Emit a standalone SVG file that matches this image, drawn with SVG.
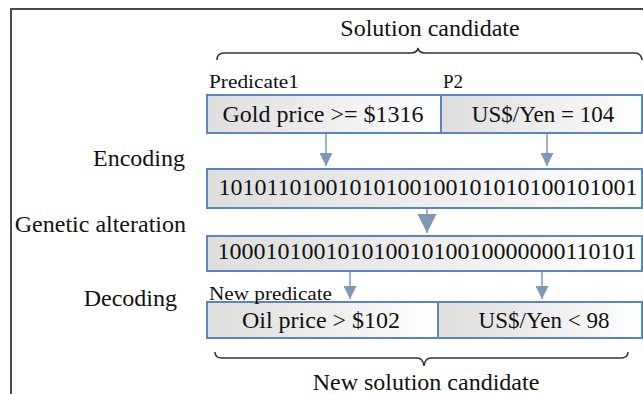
<svg xmlns="http://www.w3.org/2000/svg" width="643" height="394" viewBox="0 0 643 394" font-family="'Liberation Serif', 'DejaVu Serif', 'Noto Serif', serif">
<defs>
<linearGradient id="g" x1="0" y1="0" x2="1" y2="0">
<stop offset="0" stop-color="#dedede"/>
<stop offset="0.55" stop-color="#efefef"/>
<stop offset="1" stop-color="#ffffff"/>
</linearGradient>
<marker id="ah" viewBox="0 0 10 10" refX="10" refY="5" markerWidth="13" markerHeight="13" markerUnits="userSpaceOnUse" orient="auto">
<path d="M0,0 L10,5 L0,10 Z" fill="#7f98b8"/>
</marker>
<marker id="ahb" viewBox="0 0 10 10" refX="10" refY="5" markerWidth="19" markerHeight="19" markerUnits="userSpaceOnUse" orient="auto">
<path d="M0,0 L10,5 L0,10 Z" fill="#7f98b8"/>
</marker>
</defs>
<style>
.box{fill:url(#g);stroke:#5a86bd;stroke-width:2}
text{font-family:'Liberation Serif','DejaVu Serif','Noto Serif',serif;fill:#111}
.big{font-size:24px}
.mid{font-size:23px}
.sm{font-size:19px}
.arr{stroke:#7f98b8;stroke-width:1.5;fill:none}
.brace{stroke:#333;stroke-width:1.5;fill:none}
</style>
<rect width="643" height="394" fill="#fff"/>
<path d="M11,394 L11,9 L643,9" fill="none" stroke="#4a4a4a" stroke-width="2"/>

<g id="top-brace">
<path class="brace" d="M217,60 Q217,53 224,53 L411,53 Q417,53 418,48 Q419,53 425,53 L635,53 Q641,53 642,60"/>
<text class="big" x="430" y="36" text-anchor="middle">Solution candidate</text>
</g>
<g id="labels-top">
<text class="sm" x="209" y="88" textLength="90" lengthAdjust="spacingAndGlyphs">Predicate1</text>
<text class="sm" x="443" y="88">P2</text>
</g>

<g id="pred1">
<rect class="box" x="207" y="95" width="234" height="38"/>
<text class="big" x="323" y="122" text-anchor="middle">Gold price &gt;= $1316</text>
</g>
<g id="pred2">
<rect class="box" x="441" y="95" width="201" height="38"/>
<text class="mid" x="543" y="122" text-anchor="middle">US$/Yen = 104</text>
</g>

<g id="encoded">
<rect class="box" x="207" y="169" width="435" height="39"/>
<text class="big" x="428" y="195" text-anchor="middle">10101101001010100100101010100101001</text>
</g>
<g id="altered">
<rect class="box" x="207" y="236" width="435" height="35"/>
<text class="big" x="427" y="259" text-anchor="middle">10001010010101001010010000000110101</text>
</g>

<g id="newpred1">
<rect class="box" x="207" y="302" width="231" height="36"/>
<text class="big" x="321" y="328" text-anchor="middle">Oil price &gt; $102</text>
</g>
<g id="newpred2">
<rect class="box" x="438" y="302" width="204" height="36"/>
<text class="mid" x="544" y="328" text-anchor="middle">US$/Yen &lt; 98</text>
</g>
<g id="newpred-label">
<text class="sm" x="209" y="300" textLength="123" lengthAdjust="spacingAndGlyphs">New predicate</text>
</g>

<g id="step-labels">
<text class="big" x="185" y="166" text-anchor="end">Encoding</text>
<text class="big" x="186" y="232" text-anchor="end">Genetic alteration</text>
<text class="big" x="177" y="306" text-anchor="end">Decoding</text>
</g>

<g id="bottom-brace">
<path class="brace" d="M215,352 Q215,358 222,358 L417,358 Q423,358 424,366 Q425,358 431,358 L621,358 Q628,358 628,352"/>
<text class="big" x="426" y="390" text-anchor="middle">New solution candidate</text>
</g>

<g id="connectors">
<line class="arr" x1="326" y1="134" x2="326" y2="166" marker-end="url(#ah)"/>
<line class="arr" x1="547" y1="134" x2="547" y2="166" marker-end="url(#ah)"/>
<line class="arr" x1="427" y1="209" x2="427" y2="233" stroke-width="4" marker-end="url(#ahb)"/>
<line class="arr" x1="350" y1="272" x2="350" y2="299" marker-end="url(#ah)"/>
<line class="arr" x1="542" y1="272" x2="542" y2="299" marker-end="url(#ah)"/>
</g>
</svg>
